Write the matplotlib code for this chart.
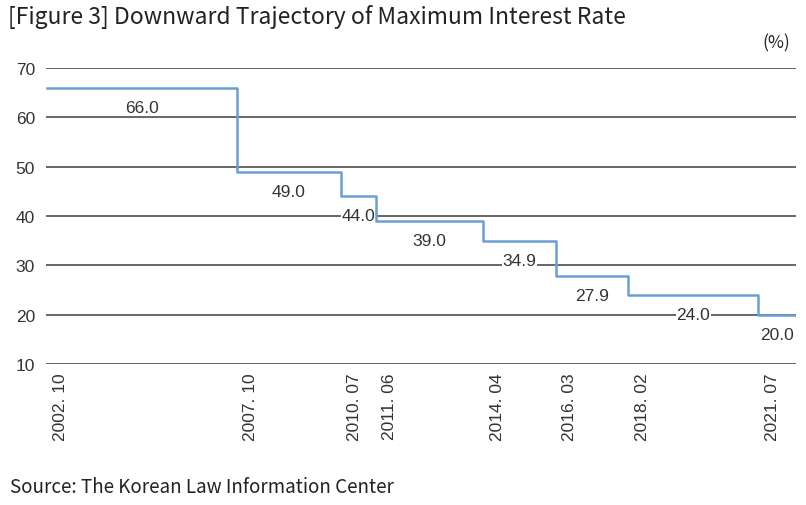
import matplotlib
matplotlib.use("Agg")
import matplotlib.pyplot as plt
import matplotlib.transforms as mtransforms

# Data
dates = ["2002. 10", "2007. 10", "2010. 07", "2011. 06", "2014. 04", "2016. 03", "2018. 02", "2021. 07"]
rates = [66.0, 49.0, 44.0, 39.0, 34.9, 27.9, 24.0, 20.0]
end_date = "2022. 07"

def months(s):
    y, m = s.split(".")
    return int(y) * 12 + int(m)

x0 = months(dates[0])
xs = [months(d) - x0 for d in dates]
x_end = months(end_date) - x0

fig = plt.figure(figsize=(8.06, 5.06), dpi=100)
ax = fig.add_axes([46 / 806, 1 - 365 / 506, (796 - 46) / 806, (365 - 69) / 506])

ax.set_ylim(10, 70)
ax.set_xlim(-0.3, x_end)
ax.set_yticks([10, 20, 30, 40, 50, 60, 70])
for yv in [10, 20, 30, 40, 50, 60, 70]:
    ax.axhline(yv, color="#666666", lw=1.4, zorder=1)

step_x = xs + [x_end]
step_y = rates + [rates[-1]]
ax.step(step_x, step_y, where="post", color="#6b9fd2", lw=1.8, zorder=3)

# value labels
label_font = "Liberation Sans"
for i, v in enumerate(rates):
    xm = (step_x[i] + step_x[i + 1]) / 2
    ax.annotate(f"{v:.1f}", (xm, v), xytext=(0, -14), textcoords="offset points",
                ha="center", va="center", fontsize=12.5, color="#333333",
                family=label_font, zorder=2,
                bbox=dict(boxstyle="square,pad=0.05", fc="white", ec="none"))

for s in ax.spines.values():
    s.set_visible(False)
ax.tick_params(axis="y", length=0, pad=8, labelsize=12.5, labelcolor="#333333")
for t in ax.get_yticklabels():
    t.set_family(label_font)

ax.set_xticks(xs)
ax.set_xticklabels(dates, rotation=90, fontsize=12.5, color="#333333", family=label_font)
ax.tick_params(axis="x", length=0, pad=6)
offset = mtransforms.ScaledTranslation(14 / 100, 0, fig.dpi_scale_trans)
for t in ax.get_xticklabels():
    t.set_transform(t.get_transform() + offset)

title_font = ["Noto Sans CJK KR", "DejaVu Sans"]
fig.text(8 / 806, 1 - 17 / 506, "[Figure 3] Downward Trajectory of Maximum Interest Rate",
         ha="left", va="center", fontsize=16.5, color="#222222", family=title_font)
fig.text(790 / 806, 1 - 43 / 506, "(%)", ha="right", va="center", fontsize=12.5,
         color="#222222", family=title_font)
fig.text(10 / 806, 1 - 488 / 506, "Source: The Korean Law Information Center",
         ha="left", va="center", fontsize=13.5, color="#222222", family=title_font)

fig.savefig("out.png", dpi=100)
